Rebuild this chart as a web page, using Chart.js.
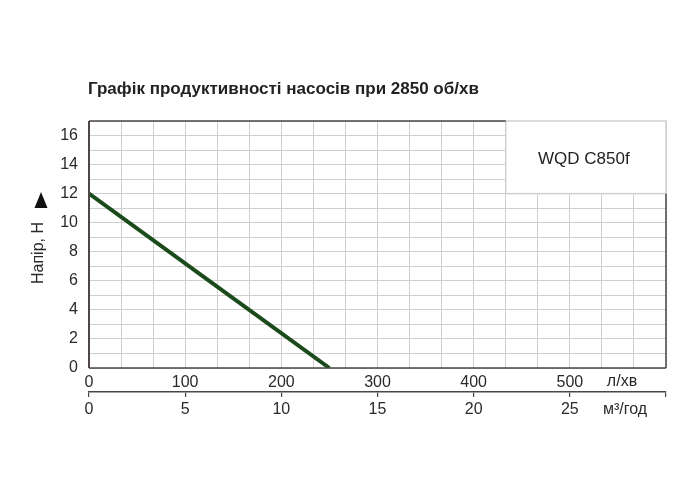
<!DOCTYPE html>
<html>
<head>
<meta charset="utf-8">
<script src="https://cdn.jsdelivr.net/npm/chart.js@4/dist/chart.umd.min.js"></script>
<style>
html,body{margin:0;padding:0;background:#fff;}
#wrap{width:700px;height:500px;position:relative;}
</style>
</head>
<body>
<div id="wrap"><canvas id="c" width="700" height="500"></canvas></div>
<script>
// ---- data ----
const chartTitle = 'Графік продуктивності насосів при 2850 об/хв';
const yTitle = 'Напір, Н';
const modelName = 'WQD C850f';
const flowUnitLpm = 'л/хв';
const flowUnitM3h = 'м³/год';
const flowLpm = [0, 125, 250];       // л/хв
const headM = [12, 6, 0];            // м
const yTickValues = [0,1,2,3,4,5,6,7,8,9,10,11,12,13,14,15,16,17];
const yTickLabels = ['0','','2','','4','','6','','8','','10','','12','','14','','16',''];
const xGridStepsLpm = [0,1,2,3,4,5,6,7,8,9,10,11,12,13,14,15,16,17,18]; // multiples of 100/3
const xTickLabelsLpm = {0:'0',3:'100',6:'200',9:'300',12:'400',15:'500'};
const x2TickValues = [0,5,10,15,20,25,30];
const x2TickLabels = ['0','5','10','15','20','25',''];
const boxRange = {xMin: 1300/3, xMax: 600, yMin: 12, yMax: 17};

const FONT = '"Liberation Sans", Arial, sans-serif';
const TXT = '#2a2a2a';
const FRAME = '#4d4646';
const GRID = '#cfcfcf';

const decor = {
  id: 'decor',
  beforeDatasetsDraw(chart) {
    const {ctx, scales:{x, y}} = chart;
    const l = x.getPixelForValue(boxRange.xMin), r = x.getPixelForValue(boxRange.xMax);
    const t = y.getPixelForValue(boxRange.yMax), b = y.getPixelForValue(boxRange.yMin);
    ctx.save();
    ctx.fillStyle = '#fff';
    ctx.fillRect(l, t, r - l, b - t);
    ctx.strokeStyle = GRID; ctx.lineWidth = 1.5;
    ctx.strokeRect(l, t, r - l, b - t);
    ctx.fillStyle = '#222';
    ctx.font = '17px ' + FONT;
    ctx.textAlign = 'center'; ctx.textBaseline = 'middle';
    ctx.fillText(modelName, (l + r) / 2 - 2, (t + b) / 2 + 2);
    ctx.restore();
  },
  afterDatasetsDraw(chart) {
    const {ctx, chartArea: ca, scales:{x, y, x2}} = chart;
    const bx = x.getPixelForValue(boxRange.xMin);
    const by = y.getPixelForValue(boxRange.yMin);
    ctx.save();
    ctx.strokeStyle = FRAME;
    ctx.lineWidth = 2;
    ctx.beginPath(); ctx.moveTo(ca.left, ca.top); ctx.lineTo(ca.left, ca.bottom); ctx.stroke();
    ctx.lineWidth = 1.5;
    ctx.beginPath(); ctx.moveTo(ca.left, ca.bottom); ctx.lineTo(ca.right, ca.bottom); ctx.stroke();
    ctx.beginPath(); ctx.moveTo(ca.left, ca.top); ctx.lineTo(bx, ca.top); ctx.stroke();
    ctx.beginPath(); ctx.moveTo(ca.right, by); ctx.lineTo(ca.right, ca.bottom); ctx.stroke();
    ctx.restore();
  },
  afterDraw(chart) {
    const {ctx, chartArea: ca, scales:{x, y, x2}} = chart;
    ctx.save();
    // title
    ctx.fillStyle = '#222';
    ctx.font = 'bold 17px ' + FONT;
    ctx.textAlign = 'left'; ctx.textBaseline = 'middle';
    ctx.fillText(chartTitle, ca.left - 1, 89);
    // y title
    ctx.font = '16px ' + FONT;
    ctx.fillStyle = TXT;
    ctx.translate(39, 253);
    ctx.rotate(-Math.PI / 2);
    ctx.textAlign = 'center';
    ctx.fillText(yTitle, 0, 0);
    ctx.restore();
    ctx.save();
    // triangle
    ctx.fillStyle = '#111';
    ctx.beginPath();
    ctx.moveTo(41, 192); ctx.lineTo(47.5, 208); ctx.lineTo(34.5, 208); ctx.closePath(); ctx.fill();
    // unit labels
    ctx.fillStyle = TXT;
    ctx.font = '16px ' + FONT;
    ctx.textAlign = 'center'; ctx.textBaseline = 'middle';
    ctx.fillText(flowUnitLpm, x.getPixelForValue(600) - 44, 382);
    ctx.fillText(flowUnitM3h, x.getPixelForValue(600) - 41, 410);
    ctx.restore();
  }
};

new Chart(document.getElementById('c'), {
  type: 'line',
  data: {
    datasets: [{
      data: flowLpm.map((v, i) => ({x: v, y: headM[i]})),
      borderColor: '#1b4b1b',
      borderWidth: 4,
      pointRadius: 0,
      tension: 0,
      xAxisID: 'x', yAxisID: 'y'
    }]
  },
  options: {
    responsive: false,
    animation: false,
    events: [],
    layout: {padding: {top: 121, left: 0, right: 34, bottom: 68}},
    plugins: {legend: {display: false}, tooltip: {enabled: false}, title: {display: false}},
    scales: {
      x: {
        type: 'linear', position: 'bottom', min: 0, max: 600,
        afterBuildTicks(s) { s.ticks = xGridStepsLpm.map(i => ({value: i * 100 / 3})); },
        afterFit(s) { s.height = 24; },
        grid: {color: GRID, lineWidth: 1, drawTicks: false},
        border: {display: false},
        ticks: {
          autoSkip: false, maxRotation: 0, padding: 5, color: TXT,
          font: {family: FONT, size: 16},
          callback(v, i) { return xTickLabelsLpm[i] !== undefined ? xTickLabelsLpm[i] : ''; }
        }
      },
      x2: {
        type: 'linear', position: 'bottom', min: 0, max: 30,
        afterBuildTicks(s) { s.ticks = x2TickValues.map(v => ({value: v})); },
        afterFit(s) { s.height = 40; },
        grid: {drawOnChartArea: false, drawTicks: true, tickLength: 5, color: FRAME, lineWidth: 1.2},
        border: {display: true, color: FRAME, width: 1.5},
        ticks: {
          autoSkip: false, maxRotation: 0, padding: 3, color: TXT,
          font: {family: FONT, size: 16},
          callback(v, i) { return x2TickLabels[i]; }
        }
      },
      y: {
        type: 'linear', min: 0, max: 17,
        afterBuildTicks(s) { s.ticks = yTickValues.map(v => ({value: v})); },
        afterFit(s) { s.width = 89; },
        grid: {color: GRID, lineWidth: 1, drawTicks: false},
        border: {display: false},
        ticks: {
          autoSkip: false, padding: 11, color: TXT,
          font: {family: FONT, size: 16},
          callback(v, i) { return yTickLabels[i]; }
        }
      }
    }
  },
  plugins: [decor]
});
</script>
</body>
</html>
